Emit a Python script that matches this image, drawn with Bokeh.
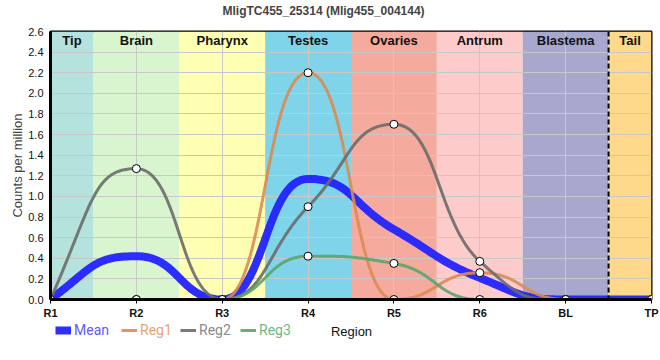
import numpy as np
from bokeh.plotting import figure
from bokeh.layouts import column
from bokeh.models import FixedTicker, PrintfTickFormatter, Span, Legend, LegendItem, Label, Title
from bokeh.core.properties import value
from bokeh.embed import file_html
from bokeh.resources import INLINE

# ---------------- data ----------------
title_text = "MligTC455_25314 (Mlig455_004144)"
x_title = "Region"
y_title = "Counts per million"
tick_labels = ["R1", "R2", "R3", "R4", "R5", "R6", "BL", "TP"]
band_names = ["Tip", "Brain", "Pharynx", "Testes", "Ovaries", "Antrum", "Blastema", "Tail"]
band_colors = ["#b4e3dd", "#d9f5cf", "#ffffb4", "#7fd4ea", "#f4aa9c", "#fecbcb", "#a8a8cf", "#fed98b"]
reg1 = [0, 0, 0, 2.2, 0, 0.26, 0, 0]
reg2 = [0, 1.27, 0, 0.9, 1.7, 0.37, 0, 0]
reg3 = [0, 0, 0, 0.42, 0.35, 0, 0, 0]
mean = [0, 0.42, 0, 1.17, 0.68, 0.21, 0, 0]

series_names = ["Mean", "Reg1", "Reg2", "Reg3"]
line_colors = ["#2323ff", "#dd8a52", "#6b6b6b", "#5aa56e"]
line_widths = [8, 3, 3, 3]
label_colors = ["#5c5cff", "#eba273", "#8a8a8a", "#6cb883"]

FONT = "Liberation Sans"


def smooth_curve(xs, ys, k=0.5, n=40):
    """Monotone-tangent Bezier smoothing used only to draw the line between the data points."""
    x = np.asarray(xs, float)
    y = np.asarray(ys, float)
    h = np.diff(x)
    s = np.diff(y) / h
    m = np.zeros_like(y)
    for i in range(1, len(y) - 1):
        pp = (s[i - 1] * h[i] + s[i] * h[i - 1]) / (h[i - 1] + h[i])
        m[i] = (np.sign(s[i - 1]) + np.sign(s[i])) * min(abs(s[i - 1]), abs(s[i]), 0.5 * abs(pp))
    m[0] = (3 * s[0] - m[1]) / 2
    m[-1] = (3 * s[-1] - m[-2]) / 2
    t = np.linspace(0, 1, n)
    b0, b1, b2, b3 = (1 - t) ** 3, 3 * (1 - t) ** 2 * t, 3 * (1 - t) * t ** 2, t ** 3
    cx, cy = [], []
    for i in range(len(y) - 1):
        x0, x3 = x[i], x[i + 1]
        y0, y3 = y[i], y[i + 1]
        x1, y1 = x0 + k * h[i], y0 + k * h[i] * m[i]
        x2, y2 = x3 - k * h[i], y3 - k * h[i] * m[i + 1]
        px = b0 * x0 + b1 * x1 + b2 * x2 + b3 * x3
        py = b0 * y0 + b1 * y1 + b2 * y2 + b3 * y3
        if i > 0:
            px, py = px[1:], py[1:]
        cx.extend(px)
        cy.extend(py)
    return cx, cy


pos = np.arange(len(tick_labels), dtype=float)
y_max = 2.6
y_ticks = [round(0.2 * i, 1) for i in range(14)]

p = figure(width=660, height=322, x_range=(pos[0], pos[-1]), y_range=(0, y_max),
           output_backend="svg", toolbar_location=None,
           min_border_left=50, min_border_right=9, min_border_top=30, min_border_bottom=23)

p.title.text = title_text
p.title.align = "left"
p.title.vertical_align = "bottom"
p.title.offset = 172
p.title.text_font = FONT
p.title.text_font_size = "12px"
p.title.text_font_style = "bold"
p.title.standoff = 2
# empty spacer between the title and the frame
p.add_layout(Title(text=" ", text_font_size="8px", standoff=2), "above")

p.outline_line_color = "black"
p.outline_line_width = 2
p.background_fill_color = "white"

# region bands
left = np.clip(pos - 0.5, pos[0], pos[-1])
right = np.clip(pos + 0.5, pos[0], pos[-1])
p.quad(left=left, right=right, bottom=0, top=y_max, fill_color=band_colors,
       line_color=None, level="image")
p.text(x=(left + right) / 2, y=[y_max] * len(band_names), text=band_names,
       text_align="center", text_baseline="top", y_offset=1,
       text_font=value(FONT), text_font_style="bold", text_font_size="13px",
       text_color="#111111")

p.add_layout(Span(location=6.5, dimension="height", line_color="black",
                  line_width=2, line_dash="5 3"))

# grid
p.xgrid.ticker = FixedTicker(ticks=list(pos))
p.ygrid.ticker = FixedTicker(ticks=y_ticks)
p.grid.grid_line_color = "#c8c8c8"
p.grid.grid_line_width = 1

# axes
p.xaxis.ticker = FixedTicker(ticks=list(pos))
p.xaxis.major_label_overrides = {int(i): lab for i, lab in enumerate(tick_labels)}
p.yaxis.ticker = FixedTicker(ticks=y_ticks)
p.yaxis.formatter = PrintfTickFormatter(format="%.1f")
for ax in (p.xaxis[0], p.yaxis[0]):
    ax.axis_line_color = "black"
    ax.axis_line_width = 3
    ax.minor_tick_line_color = None
    ax.major_label_text_font = FONT
    ax.axis_label_text_font = FONT
    ax.axis_label_text_font_style = "normal"
    ax.axis_label_text_font_size = "13px"
    ax.major_label_text_color = "#111111"
p.xaxis.major_tick_out = 4
p.xaxis.major_tick_in = 0
p.xaxis.major_tick_line_color = "black"
p.xaxis.major_label_standoff = 3
p.xaxis.major_label_text_font_size = "11px"
p.xaxis.major_label_text_font_style = "bold"
p.yaxis.major_tick_out = 0
p.yaxis.major_tick_in = 0
p.yaxis.major_label_standoff = 7
p.yaxis.major_label_text_font_size = "11px"
p.yaxis.axis_label = y_title
p.yaxis.axis_label_standoff = 0

# lines
for name, vals, col, lw in zip(series_names, [mean, reg1, reg2, reg3], line_colors, line_widths):
    cx, cy = smooth_curve(pos, vals)
    p.line(cx, cy, line_color=col, line_width=lw, line_alpha=0.95 if lw > 3 else 0.9)

for vals in (reg1, reg2, reg3):
    p.scatter(pos, vals, marker="circle", size=8, fill_color="white",
              line_color="black", line_width=1)

# ---------------- legend strip (same row as the x-axis title) ----------------
# (its frame is aligned with the main frame by the column layout: x measured from x=50)
lg = figure(width=660, height=30, x_range=(0, 1), y_range=(0, 1),
            output_backend="svg", toolbar_location=None,
            min_border_left=50, min_border_right=9,
            min_border_top=0, min_border_bottom=0)
lg.axis.visible = False
lg.grid.visible = False
lg.outline_line_color = None
lg.background_fill_color = "white"
lg.border_fill_color = "white"

leg_x = [5, 71, 130, 190]
for name, col, lw, lc, lx in zip(series_names, line_colors, line_widths, label_colors, leg_x):
    # swatch-only renderer, kept off-screen
    r = lg.line(x=[-10, -9], y=[-10, -10], line_color=col, line_width=lw,
                line_alpha=0.95 if lw > 3 else 0.9)
    leg = Legend(items=[LegendItem(label=name, renderers=[r])], location=(lx, 14),
                 orientation="horizontal", padding=0, margin=0,
                 border_line_color=None, background_fill_alpha=0,
                 glyph_width=16, glyph_height=14, label_standoff=3,
                 label_text_color=lc, label_text_font="Roboto",
                 label_text_font_size="14px", label_height=14)
    lg.add_layout(leg, "center")

lg.add_layout(Label(x=301, y=21, x_units="screen", y_units="screen", text=x_title,
                    text_align="center", text_baseline="middle",
                    text_font=FONT, text_font_size="13px", text_color="#111111"))

layout = column(p, lg, spacing=0)
open("out.html", "w").write(file_html(layout, INLINE))
